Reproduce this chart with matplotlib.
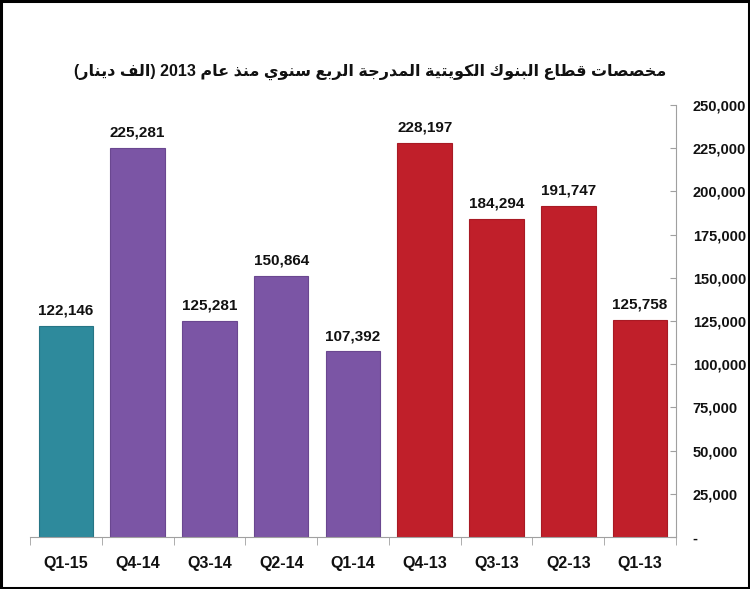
import re
import matplotlib
matplotlib.use("Agg")
import matplotlib.pyplot as plt
from matplotlib.patches import Rectangle
from matplotlib.ticker import FuncFormatter, FixedLocator

categories = ["Q1-15", "Q4-14", "Q3-14", "Q2-14", "Q1-14", "Q4-13", "Q3-13", "Q2-13", "Q1-13"]
values = [122146, 225281, 125281, 150864, 107392, 228197, 184294, 191747, 125758]
colors = ["#2E8A9C", "#7B55A5", "#7B55A5", "#7B55A5", "#7B55A5",
          "#C01F2A", "#C01F2A", "#C01F2A", "#C01F2A"]
edge_colors = ["#267585", "#6A4790", "#6A4790", "#6A4790", "#6A4790",
               "#A81A24", "#A81A24", "#A81A24", "#A81A24"]
yticks = [0, 25000, 50000, 75000, 100000, 125000, 150000, 175000, 200000, 225000, 250000]
title_text = "مخصصات قطاع البنوك الكويتية المدرجة الربع سنوي منذ عام 2013 (الف دينار)"

# --- minimal Arabic shaping (presentation forms B) + visual reordering ---
FORMS = {
    'ا': (0xFE8D, 0xFE8E, None, None),
    'ب': (0xFE8F, 0xFE90, 0xFE91, 0xFE92),
    'ة': (0xFE93, 0xFE94, None, None),
    'ت': (0xFE95, 0xFE96, 0xFE97, 0xFE98),
    'ج': (0xFE9D, 0xFE9E, 0xFE9F, 0xFEA0),
    'خ': (0xFEA5, 0xFEA6, 0xFEA7, 0xFEA8),
    'د': (0xFEA9, 0xFEAA, None, None),
    'ذ': (0xFEAB, 0xFEAC, None, None),
    'ر': (0xFEAD, 0xFEAE, None, None),
    'س': (0xFEB1, 0xFEB2, 0xFEB3, 0xFEB4),
    'ص': (0xFEB9, 0xFEBA, 0xFEBB, 0xFEBC),
    'ط': (0xFEC1, 0xFEC2, 0xFEC3, 0xFEC4),
    'ع': (0xFEC9, 0xFECA, 0xFECB, 0xFECC),
    'ف': (0xFED1, 0xFED2, 0xFED3, 0xFED4),
    'ق': (0xFED5, 0xFED6, 0xFED7, 0xFED8),
    'ك': (0xFED9, 0xFEDA, 0xFEDB, 0xFEDC),
    'ل': (0xFEDD, 0xFEDE, 0xFEDF, 0xFEE0),
    'م': (0xFEE1, 0xFEE2, 0xFEE3, 0xFEE4),
    'ن': (0xFEE5, 0xFEE6, 0xFEE7, 0xFEE8),
    'و': (0xFEED, 0xFEEE, None, None),
    'ي': (0xFEF1, 0xFEF2, 0xFEF3, 0xFEF4),
}


def shape(text):
    out = []
    n = len(text)
    for i, ch in enumerate(text):
        if ch not in FORMS:
            out.append(ch)
            continue
        iso, fin, ini, med = FORMS[ch]
        prev = text[i - 1] if i > 0 else ''
        nxt = text[i + 1] if i + 1 < n else ''
        jp = prev in FORMS and FORMS[prev][2] is not None
        jn = nxt in FORMS and ini is not None
        if jp and jn:
            out.append(chr(med))
        elif jp:
            out.append(chr(fin))
        elif jn:
            out.append(chr(ini))
        else:
            out.append(chr(iso))
    s = ''.join(out)[::-1]
    s = re.sub(r'[0-9]+', lambda m: m.group(0)[::-1], s)
    s = s.translate(str.maketrans({'(': ')', ')': '('}))
    return s


plt.rcParams['font.family'] = ['Liberation Sans', 'DejaVu Sans']

fig = plt.figure(figsize=(7.5, 5.89), dpi=100)
ax = fig.add_axes([0.04, 0.0883, 0.8613, 0.7334])

x = list(range(len(categories)))
ax.bar(x, values, width=0.76, color=colors, edgecolor=edge_colors, linewidth=0.8, zorder=2)

for xi, v in zip(x, values):
    ax.annotate(f"{v:,}", (xi, v), xytext=(0, 6), textcoords='offset points',
                ha='center', va='bottom', fontsize=11, fontweight='bold', color='#111111')

ax.set_xlim(-0.5, len(categories) - 0.5)
ax.set_ylim(0, 250000)

ax.yaxis.tick_right()
ax.set_yticks(yticks)
ax.yaxis.set_major_formatter(FuncFormatter(lambda v, p: '-' if v == 0 else f"{int(v):,}"))
ax.tick_params(axis='y', direction='in', length=4, color='#A0A0A0', pad=12,
               labelsize=10.5, labelcolor='#111111')
for lbl in ax.get_yticklabels():
    lbl.set_fontweight('bold')

ax.set_xticks(x)
ax.set_xticklabels(categories, fontsize=11.5, fontweight='bold', color='#111111')
ax.xaxis.set_minor_locator(FixedLocator([i - 0.5 for i in range(len(categories) + 1)]))
ax.tick_params(axis='x', which='major', length=0, pad=14)
ax.tick_params(axis='x', which='minor', length=6, direction='out', color='#A0A0A0')

for s in ['left', 'top']:
    ax.spines[s].set_visible(False)
ax.spines['right'].set_color('#A0A0A0')
ax.spines['bottom'].set_color('#A0A0A0')

fig.text(0.493, 0.878, shape(title_text), ha='center', va='center', fontsize=11.5,
         fontweight='bold', color='#111111',
         family=['Liberation Sans', 'DejaVu Sans'])

fig.patches.append(Rectangle((0.0015, 0.002), 0.997, 0.996, transform=fig.transFigure,
                             fill=False, edgecolor='black', linewidth=2.2))

fig.savefig('out.png', dpi=100)
